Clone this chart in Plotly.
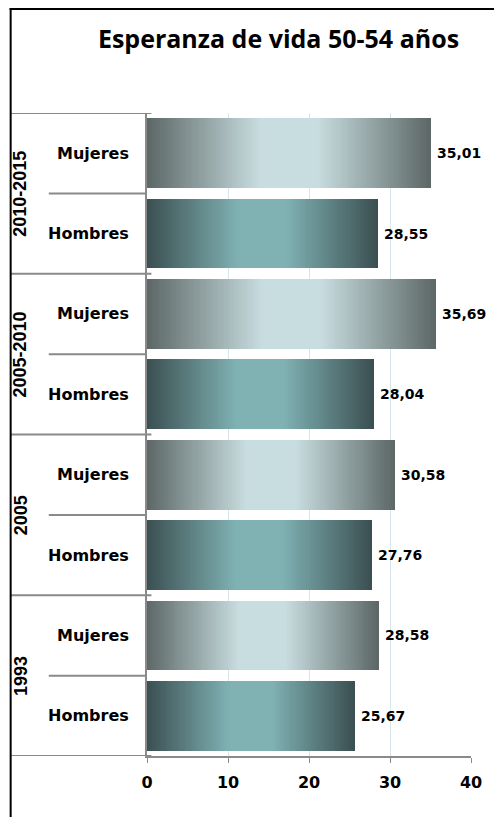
import plotly.graph_objects as go

# ---- data ----
years = ["1993", "2005", "2005-2010", "2010-2015"]
sexes = ["Hombres", "Mujeres"]
hombres = [25.67, 27.76, 28.04, 28.55]
mujeres = [28.58, 30.58, 35.69, 35.01]
x_ticks = [0, 10, 20, 30, 40]
title_text = "Esperanza de vida 50-54 años"

# ---- build categories (bottom to top) ----
cats, vals, sex_of = [], [], []
for i, y in enumerate(years):
    for s, arr in (("Hombres", hombres), ("Mujeres", mujeres)):
        cats.append(f"{y}|{s}")
        vals.append(arr[i])
        sex_of.append(s)

# ---- gradient styling ----
DARK = {"Mujeres": (92, 103, 102), "Hombres": (59, 79, 81)}
LIGHT = {"Mujeres": (200, 221, 224), "Hombres": (128, 178, 180)}


def grad(t, sex):
    # dark -> light (0..0.4), light plateau (0.4..0.6), light -> dark (0.6..1)
    if t < 0.4:
        f = t / 0.4
    elif t <= 0.6:
        f = 1.0
    else:
        f = (1 - t) / 0.4
    d, l = DARK[sex], LIGHT[sex]
    c = [round(d[k] + (l[k] - d[k]) * f) for k in range(3)]
    return f"rgb({c[0]},{c[1]},{c[2]})"


N = 120
fig = go.Figure()
for i in range(N):
    t = (i + 0.5) / N
    fig.add_trace(go.Bar(
        x=[v / N for v in vals], y=cats, orientation="h",
        marker=dict(color=[grad(t, s) for s in sex_of], line=dict(width=0)),
        hoverinfo="skip", showlegend=False,
    ))

W, H = 494, 817
L, R, T, B = 146.5, 16, 113, 61
pw, ph = W - L - R, H - T - B


def px2x(px):
    return (px - L) / pw


def py2y(py):
    return (H - B - py) / ph


annotations = []
# value labels
for idx, v in enumerate(vals):
    annotations.append(dict(
        x=v, y=idx, xref="x", yref="y", text=f"{v:.2f}".replace(".", ","),
        xanchor="left", yanchor="middle", xshift=4, showarrow=False,
        font=dict(family="DejaVu Sans", size=14, color="black", weight="bold"),
    ))
# sex labels
for idx, c in enumerate(cats):
    annotations.append(dict(
        x=px2x(130), y=idx, xref="paper", yref="y", text=sex_of[idx],
        xanchor="right", yanchor="middle", showarrow=False,
        font=dict(family="DejaVu Sans", size=16, color="black", weight="bold"),
    ))
# year labels (rotated)
for g, yname in enumerate(years):
    annotations.append(dict(
        x=px2x(17), y=2 * g + 0.5, xref="paper", yref="y", text=yname,
        textangle=-90, xanchor="center", yanchor="middle", showarrow=False,
        font=dict(family="Liberation Sans", size=18, color="black", weight="bold"),
    ))

shapes = []
LINE_C = "#8a8a8a"
# group dividers (full width of the label table)
for g in range(len(years) + 1):
    shapes.append(dict(type="line", xref="paper", yref="y",
                       x0=px2x(7), x1=px2x(151), y0=2 * g - 0.5, y1=2 * g - 0.5,
                       line=dict(color=LINE_C, width=2)))
# inner dividers
for g in range(len(years)):
    shapes.append(dict(type="line", xref="paper", yref="y",
                       x0=px2x(46), x1=0, y0=2 * g + 0.5, y1=2 * g + 0.5,
                       line=dict(color=LINE_C, width=2)))
# outer chart border (left + top)
shapes.append(dict(type="line", xref="paper", yref="paper",
                   x0=px2x(7), x1=px2x(7), y0=py2y(8), y1=py2y(900),
                   line=dict(color="black", width=2)))
shapes.append(dict(type="line", xref="paper", yref="paper",
                   x0=px2x(6), x1=px2x(600), y0=py2y(9), y1=py2y(9),
                   line=dict(color="black", width=2)))

fig.update_layout(
    width=W, height=H, autosize=False,
    margin=dict(l=L, r=R, t=T, b=B, pad=0),
    barmode="stack", bargap=0.133,
    plot_bgcolor="white", paper_bgcolor="white",
    title=dict(text=f"<b>{title_text}</b>", x=278.5 / W, xanchor="center",
               y=1 - 39 / H, yanchor="middle", yref="container",
               font=dict(family="Open Sans", size=25, color="black")),
    xaxis=dict(range=[0, 40], tickvals=x_ticks, showgrid=True, gridcolor="#d6e6ec",
               gridwidth=1, zeroline=False, showline=True, linecolor=LINE_C, linewidth=1.5,
               ticks="outside", ticklen=5, tickcolor=LINE_C, ticklabelstandoff=6,
               tickfont=dict(family="DejaVu Sans", size=16, color="black", weight="bold")),
    yaxis=dict(type="category", categoryorder="array", categoryarray=cats,
               range=[-0.5, len(cats) - 0.5], showticklabels=False, showgrid=False,
               zeroline=False, showline=True, linecolor=LINE_C, linewidth=1.5, ticks=""),
    annotations=annotations, shapes=shapes,
)

fig.write_html("out.html", config={"displayModeBar": False},
               post_script="document.body.style.margin='0';document.body.style.overflow='hidden';")
